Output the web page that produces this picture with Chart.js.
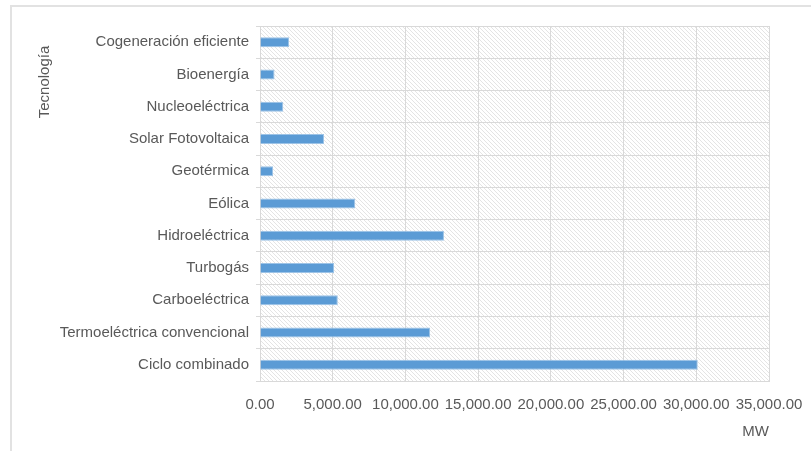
<!DOCTYPE html>
<html>
<head>
<meta charset="utf-8">
<script src="https://cdn.jsdelivr.net/npm/chart.js@4"></script>
<style>
  html, body { margin: 0; padding: 0; background: #fff; overflow: hidden; }
  #wrap { position: relative; width: 811px; height: 451px; }
  #frame { position: absolute; left: 10px; top: 5px; width: 900px; height: 500px;
           border-top: 2px solid #e2e2e2; border-left: 2px solid #e2e2e2; pointer-events: none; }
  canvas { position: absolute; left: 0; top: 0; }
</style>
</head>
<body>
<div id="wrap">
  <canvas id="chart" width="811" height="451"></canvas>
  <div id="frame"></div>
</div>
<script>
const technologies = [
    'Cogeneración eficiente',
    'Bioenergía',
    'Nucleoeléctrica',
    'Solar Fotovoltaica',
    'Geotérmica',
    'Eólica',
    'Hidroeléctrica',
    'Turbogás',
    'Carboeléctrica',
    'Termoeléctrica convencional',
    'Ciclo combinado'
];
const capacityMW = [2000, 1000, 1600, 4400, 900, 6550, 12650, 5100, 5350, 11700, 30100];
const xTicks = [0, 5000, 10000, 15000, 20000, 25000, 30000, 35000];
const yTitle = 'Tecnología';
const xTitle = 'MW';

const textColor = '#595959';
const gridColor = '#d9d9d9';

// diagonal hatch for the plot area
function makeHatch() {
    const tile = document.createElement('canvas');
    tile.width = 4;
    tile.height = 4;
    const c = tile.getContext('2d');
    c.fillStyle = '#ffffff';
    c.fillRect(0, 0, 4, 4);
    c.fillStyle = '#e4e4e4';
    for (let i = 0; i < 4; i++) {
        c.fillRect(i, i, 1, 1);
    }
    return c.createPattern(tile, 'repeat');
}

const plotBackground = {
    id: 'plotBackground',
    beforeDraw(chart) {
        const {ctx, chartArea} = chart;
        ctx.save();
        ctx.fillStyle = makeHatch();
        ctx.fillRect(chartArea.left, chartArea.top, chartArea.right - chartArea.left, chartArea.bottom - chartArea.top);
        ctx.restore();
    }
};

// y axis title sits near the top, like the original
const sideTitle = {
    id: 'sideTitle',
    afterDraw(chart) {
        const ctx = chart.ctx;
        ctx.save();
        ctx.translate(45, chart.chartArea.top + 56);
        ctx.rotate(-Math.PI / 2);
        ctx.font = '15px "Liberation Sans", Arial, sans-serif';
        ctx.fillStyle = textColor;
        ctx.textAlign = 'center';
        ctx.textBaseline = 'middle';
        ctx.fillText(yTitle, 0, 0);
        ctx.restore();
    }
};

Chart.defaults.font.family = '"Liberation Sans", Arial, sans-serif';
Chart.defaults.font.size = 15;
Chart.defaults.color = textColor;

new Chart(document.getElementById('chart'), {
    type: 'bar',
    data: {
        labels: technologies,
        datasets: [{
            label: 'MW',
            data: capacityMW,
            backgroundColor: '#5b9bd5',
            borderColor: '#9dc3e6',
            borderWidth: 1,
            barPercentage: 0.31,
            categoryPercentage: 1
        }]
    },
    options: {
        indexAxis: 'y',
        responsive: false,
        animation: false,
        devicePixelRatio: 1,
        layout: {
            padding: { left: 0, right: 42, top: 26, bottom: 0 }
        },
        plugins: {
            legend: { display: false },
            tooltip: { enabled: false }
        },
        scales: {
            x: {
                min: 0,
                max: 35000,
                afterBuildTicks(scale) {
                    scale.ticks = xTicks.map(v => ({ value: v }));
                },
                afterFit(scale) {
                    scale.height = 70;
                    scale.paddingRight = 0;
                    scale.paddingLeft = 0;
                },
                grid: {
                    color: gridColor,
                    lineWidth: 1,
                    drawTicks: false
                },
                border: { color: gridColor },
                ticks: {
                    padding: 15,
                    maxRotation: 0,
                    autoSkip: false,
                    callback: v => v.toLocaleString('en-US', { minimumFractionDigits: 2, maximumFractionDigits: 2 })
                },
                title: {
                    display: true,
                    text: xTitle,
                    align: 'end',
                    padding: { top: 0, bottom: 10 }
                }
            },
            y: {
                afterFit(scale) {
                    scale.width = 260;
                },
                grid: {
                    color: gridColor,
                    lineWidth: 1,
                    tickLength: 4
                },
                border: { color: gridColor },
                ticks: {
                    padding: 7,
                    autoSkip: false
                }
            }
        }
    },
    plugins: [plotBackground, sideTitle]
});
</script>
</body>
</html>
